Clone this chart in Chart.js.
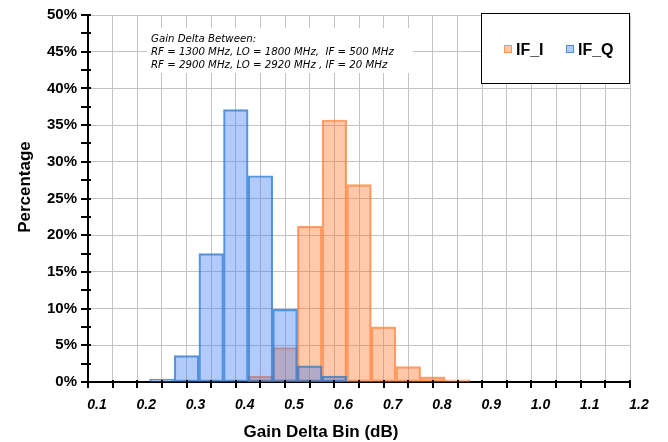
<!DOCTYPE html>
<html>
<head>
<meta charset="utf-8">
<script src="https://cdn.jsdelivr.net/npm/chart.js@4.4.1/dist/chart.umd.min.js"></script>
<style>
  html, body { margin: 0; padding: 0; background: #fff; }
  #wrap { width: 668px; height: 442px; }
</style>
</head>
<body>
<div id="wrap"><canvas id="gainChart" width="668" height="442"></canvas></div>
<script>
// bin centres (dB) and percentage per bin
const binCenters = [0.25, 0.30, 0.35, 0.40, 0.45, 0.50, 0.55, 0.60, 0.65, 0.70, 0.75, 0.80, 0.85];
const ifI = [null, null, null, null, 0.8, 4.7, 21.2, 35.7, 26.9, 7.5, 2.1, 0.7, 0.3];
const ifQ = [0.4, 3.6, 17.5, 37.1, 28.1, 9.9, 2.2, 0.8, 0.1, null, null, null, null];
const seriesNames = ['IF_I', 'IF_Q'];
const noteLines = [
    'Gain Delta Between:',
    'RF = 1300 MHz, LO = 1800 MHz,  IF = 500 MHz',
    'RF = 2900 MHz, LO = 2920 MHz , IF = 20 MHz'
];
const xTitle = 'Gain Delta Bin (dB)';
const yTitle = 'Percentage';

const toPoints = vals => binCenters.map((c, i) => ({ x: c, y: vals[i] }));

const decor = {
    id: 'decor',
    afterDraw(chart) {
        const { ctx, chartArea: a, scales: { x, y } } = chart;
        ctx.save();
        ctx.strokeStyle = '#000';
        ctx.lineWidth = 2;
        ctx.beginPath();
        y.ticks.forEach(t => {
            const py = Math.round(y.getPixelForValue(t.value));
            ctx.moveTo(a.left - 7, py);
            ctx.lineTo(a.left + 3, py);
        });
        x.ticks.forEach(t => {
            const px = Math.round(x.getPixelForValue(t.value));
            ctx.moveTo(px, a.bottom - 2);
            ctx.lineTo(px, a.bottom + 6);
        });
        ctx.stroke();

        // note box
        ctx.fillStyle = '#fff';
        ctx.fillRect(147, 28, 266, 45);
        ctx.fillStyle = '#000';
        ctx.font = 'italic 10.2px "DejaVu Sans"';
        ctx.textAlign = 'left';
        ctx.textBaseline = 'alphabetic';
        noteLines.forEach((s, i) => ctx.fillText(s, 151, 42 + i * 13));

        // legend box
        ctx.fillStyle = '#fff';
        ctx.fillRect(481.5, 13.5, 148, 70);
        ctx.lineWidth = 1;
        ctx.strokeRect(481.5, 13.5, 148, 70);
        const ds = chart.data.datasets;
        const lx = [504, 566];
        ctx.font = 'bold 16px "Liberation Sans"';
        ds.forEach((d, i) => {
            ctx.fillStyle = d.backgroundColor;
            ctx.fillRect(lx[i], 45, 8, 8);
            ctx.strokeStyle = d.borderColor;
            ctx.lineWidth = 1;
            ctx.strokeRect(lx[i] + 0.5, 45.5, 7, 7);
            ctx.fillStyle = '#000';
            ctx.fillText(d.label, lx[i] + 12, 55);
        });

        // axis titles
        ctx.font = 'bold 17px "Liberation Sans"';
        ctx.textAlign = 'center';
        ctx.textBaseline = 'middle';
        ctx.fillText(xTitle, 321, 432);
        ctx.translate(25, 187);
        ctx.rotate(-Math.PI / 2);
        ctx.fillText(yTitle, 0, 0);
        ctx.restore();
    }
};

new Chart(document.getElementById('gainChart'), {
    type: 'bar',
    data: {
        datasets: [
            {
                label: seriesNames[0],
                data: toPoints(ifI),
                backgroundColor: 'rgba(255, 117, 42, 0.4)',
                borderColor: 'rgba(255, 135, 65, 0.8)',
                borderWidth: 1.5,
                borderSkipped: false,
                order: 1
            },
            {
                label: seriesNames[1],
                data: toPoints(ifQ),
                backgroundColor: 'rgba(65, 125, 242, 0.4)',
                borderColor: 'rgba(45, 125, 210, 0.8)',
                borderWidth: 1.5,
                borderSkipped: false,
                order: 0
            }
        ]
    },
    options: {
        responsive: false,
        devicePixelRatio: 1,
        animation: false,
        layout: { padding: { top: 15, right: 38, left: 0, bottom: 0 } },
        datasets: { bar: { grouped: false, barPercentage: 1, categoryPercentage: 1 } },
        plugins: {
            legend: { display: false },
            tooltip: { enabled: false }
        },
        scales: {
            x: {
                type: 'linear',
                min: 0.1,
                max: 1.2,
                offset: false,
                afterFit: s => { s.height = 60; s.paddingLeft = 0; s.paddingRight = 0; },
                grid: { offset: false, color: '#c4c4c4', lineWidth: 1, drawTicks: false },
                border: { color: '#000', width: 2 },
                ticks: {
                    stepSize: 0.05,
                    autoSkip: false,
                    maxRotation: 0,
                    padding: 15,
                    labelOffset: 9,
                    color: '#000',
                    font: { family: 'Liberation Sans', size: 14, weight: 'bold', style: 'italic' },
                    callback: v => Math.abs(v * 10 - Math.round(v * 10)) < 1e-6 ? v.toFixed(1) : ''
                }
            },
            y: {
                min: 0,
                max: 50,
                afterFit: s => { s.width = 88; s.paddingTop = 0; s.paddingBottom = 0; },
                grid: {
                    drawTicks: false,
                    lineWidth: 1,
                    color: c => (c.tick && c.tick.value % 5 === 0) ? '#c4c4c4' : 'rgba(0,0,0,0)'
                },
                border: { color: '#000', width: 2 },
                ticks: {
                    stepSize: 2.5,
                    autoSkip: false,
                    padding: 11,
                    color: '#000',
                    font: { family: 'Liberation Sans', size: 15, weight: 'bold' },
                    callback: v => v % 5 === 0 ? v + '%' : ''
                }
            }
        }
    },
    plugins: [decor]
});
</script>
</body>
</html>
